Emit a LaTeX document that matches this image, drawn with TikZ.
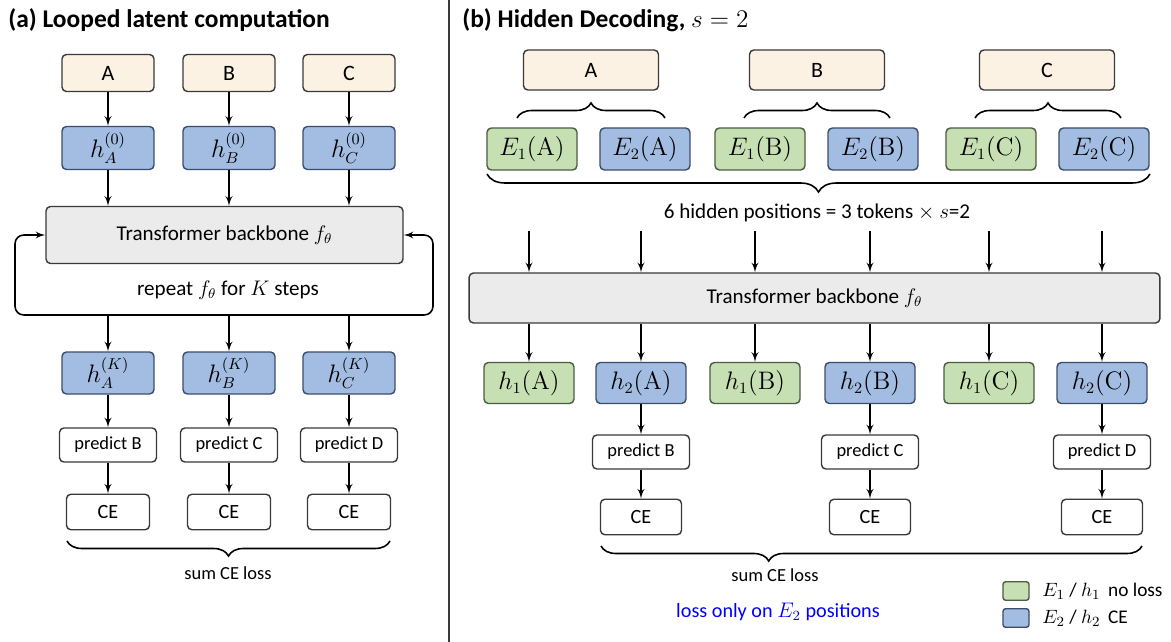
\documentclass[tikz,border=0pt]{standalone}
\usepackage{amsmath}
\usepackage{amssymb}
\usepackage[no-math]{fontspec}
\setmainfont{Carlito}
\usepackage{tikz}
\usetikzlibrary{arrows,decorations.pathreplacing}

\definecolor{creamfill}{HTML}{FBF2E3}
\definecolor{bluefill}{HTML}{A3BDE2}
\definecolor{greenfill}{HTML}{C6DFB3}
\definecolor{grayfill}{HTML}{EBEBEB}
\definecolor{boxline}{HTML}{3A3A3A}
\definecolor{blueline}{HTML}{3B4C6B}
\definecolor{greenline}{HTML}{4C5C42}

\tikzset{
	bx/.style={draw=boxline,line width=0.8pt,rounded corners=2.5pt,inner sep=0pt,align=center},
	tok/.style={bx,fill=creamfill,font=\fontsize{12.5}{14}\selectfont},
	hid/.style={bx,fill=bluefill,draw=blueline,font=\fontsize{13.5}{15}\selectfont},
	hidg/.style={bx,fill=greenfill,draw=greenline,font=\fontsize{13.5}{15}\selectfont},
	backbone/.style={bx,fill=grayfill,font=\fontsize{12}{14}\selectfont},
	pred/.style={bx,fill=white,minimum width=1.94cm,minimum height=0.68cm,font=\fontsize{10.5}{12}\selectfont},
	loss/.style={bx,fill=white,minimum height=0.71cm,font=\fontsize{11.5}{13}\selectfont},
	flow/.style={-latex',line width=0.9pt},
	brc/.style={decorate,line width=0.9pt,decoration={brace,amplitude=0.3cm}},
	lbl/.style={inner sep=0pt,font=\fontsize{12}{14}\selectfont}
}

\begin{document}
\begin{tikzpicture}[x=0.02cm,y=-0.02cm]
	\useasboundingbox[fill=white] (0,0) rectangle (1171,642);

	% (a)
	\node[anchor=west,inner sep=0pt,font=\fontsize{14.5}{16}\selectfont\bfseries] (titA) at (8,20) {(a) Looped latent computation};
	\draw[boxline,line width=0.9pt] (449,0) -- (449,642);

	\node[tok,minimum width=1.84cm,minimum height=0.74cm] (tA) at (108,73) {A};
	\node[tok,minimum width=1.84cm,minimum height=0.74cm] (tB) at (229,73) {B};
	\node[tok,minimum width=1.84cm,minimum height=0.74cm] (tC) at (349,73) {C};

	\node[hid,minimum width=1.84cm,minimum height=0.86cm] (h0A) at (108,148) {$h_A^{(0)}$};
	\node[hid,minimum width=1.84cm,minimum height=0.86cm] (h0B) at (229,148) {$h_B^{(0)}$};
	\node[hid,minimum width=1.84cm,minimum height=0.86cm] (h0C) at (349,148) {$h_C^{(0)}$};

	\node[backbone,minimum width=7.14cm,minimum height=1.14cm] (tfA) at (224.5,235) {Transformer backbone $f_\theta$};
	\node[lbl] (rep) at (228,290) {repeat $f_\theta$ for $K$ steps};

	\node[hid,minimum width=1.84cm,minimum height=0.84cm] (hKA) at (108,373) {$h_A^{(K)}$};
	\node[hid,minimum width=1.84cm,minimum height=0.84cm] (hKB) at (229,373) {$h_B^{(K)}$};
	\node[hid,minimum width=1.84cm,minimum height=0.84cm] (hKC) at (349,373) {$h_C^{(K)}$};

	\node[pred] (pA) at (108,445) {predict B};
	\node[pred] (pB) at (229,445) {predict C};
	\node[pred] (pC) at (349,445) {predict D};

	\node[loss,minimum width=1.66cm] (cA) at (108,512) {CE};
	\node[loss,minimum width=1.66cm] (cB) at (229,512) {CE};
	\node[loss,minimum width=1.66cm] (cC) at (349,512) {CE};

	\coordinate (loopB) at (229,315);
	\coordinate (loopL) at (15,235);
	\coordinate (loopR) at (433,235);

	\draw[flow] (tA) -- (h0A);
	\draw[flow] (tB) -- (h0B);
	\draw[flow] (tC) -- (h0C);
	\draw[flow] (h0A) -- (h0A |- tfA.north);
	\draw[flow] (h0B) -- (h0B |- tfA.north);
	\draw[flow] (h0C) -- (h0C |- tfA.north);
	\draw[flow,rounded corners=5pt] (loopB) -| (loopL) -- (tfA.west);
	\draw[flow,rounded corners=5pt] (loopB) -| (loopR) -- (tfA.east);
	\draw[flow] (hKA |- loopB) -- (hKA);
	\draw[flow] (hKB |- loopB) -- (hKB);
	\draw[flow] (hKC |- loopB) -- (hKC);
	\draw[flow] (hKA) -- (pA);
	\draw[flow] (hKB) -- (pB);
	\draw[flow] (hKC) -- (pC);
	\draw[flow] (pA) -- (cA);
	\draw[flow] (pB) -- (cB);
	\draw[flow] (pC) -- (cC);

	\draw[brc] (390,541) -- (67,541);
	\node[lbl,font=\fontsize{10.5}{12}\selectfont] (sumA) at (228,573) {sum CE loss};

	% (b)
	\node[anchor=west,inner sep=0pt,font=\fontsize{14.5}{16}\selectfont\bfseries] (titB) at (462,20) {(b) Hidden Decoding, $s=2$};

	\node[tok,minimum width=2.7cm,minimum height=0.8cm] (bA) at (591,70) {A};
	\node[tok,minimum width=2.7cm,minimum height=0.8cm] (bB) at (817,70) {B};
	\node[tok,minimum width=2.7cm,minimum height=0.8cm] (bC) at (1047,70) {C};

	\draw[brc] (517,118) -- (665,118);
	\draw[brc] (744,118) -- (890,118);
	\draw[brc] (975,118) -- (1121,118);

	\node[hidg,minimum width=1.8cm,minimum height=0.84cm] (eA1) at (532,149) {$E_1(\mathrm{A})$};
	\node[hid,minimum width=1.8cm,minimum height=0.84cm] (eA2) at (645,149) {$E_2(\mathrm{A})$};
	\node[hidg,minimum width=1.8cm,minimum height=0.84cm] (eB1) at (760,149) {$E_1(\mathrm{B})$};
	\node[hid,minimum width=1.8cm,minimum height=0.84cm] (eB2) at (873,149) {$E_2(\mathrm{B})$};
	\node[hidg,minimum width=1.8cm,minimum height=0.84cm] (eC1) at (991,149) {$E_1(\mathrm{C})$};
	\node[hid,minimum width=1.8cm,minimum height=0.84cm] (eC2) at (1104,149) {$E_2(\mathrm{C})$};

	\draw[brc,decoration={amplitude=0.36cm}] (1150,174) -- (487,174);
	\node[lbl] (hidpos) at (817,213) {6 hidden positions = 3 tokens $\times$ $s$=2};

	\node[backbone,minimum width=13.82cm,minimum height=1.0cm] (tfB) at (814.5,298) {Transformer backbone $f_\theta$};

	\node[hidg,minimum width=1.8cm,minimum height=0.82cm] (hA1) at (529,383) {$h_1(\mathrm{A})$};
	\node[hid,minimum width=1.8cm,minimum height=0.82cm] (hA2) at (641,383) {$h_2(\mathrm{A})$};
	\node[hidg,minimum width=1.8cm,minimum height=0.82cm] (hB1) at (755,383) {$h_1(\mathrm{B})$};
	\node[hid,minimum width=1.8cm,minimum height=0.82cm] (hB2) at (870,383) {$h_2(\mathrm{B})$};
	\node[hidg,minimum width=1.8cm,minimum height=0.82cm] (hC1) at (989,383) {$h_1(\mathrm{C})$};
	\node[hid,minimum width=1.8cm,minimum height=0.82cm] (hC2) at (1102,383) {$h_2(\mathrm{C})$};

	\node[pred] (qA) at (641,452) {predict B};
	\node[pred] (qB) at (870,452) {predict C};
	\node[pred] (qC) at (1102,452) {predict D};

	\node[loss,minimum width=1.62cm] (dA) at (641,517) {CE};
	\node[loss,minimum width=1.62cm] (dB) at (870,517) {CE};
	\node[loss,minimum width=1.62cm] (dC) at (1102,517) {CE};

	\draw[flow] ([yshift=-5pt]hA1 |- hidpos.south) -- (hA1 |- tfB.north);
	\draw[flow] ([yshift=-5pt]hA2 |- hidpos.south) -- (hA2 |- tfB.north);
	\draw[flow] ([yshift=-5pt]hB1 |- hidpos.south) -- (hB1 |- tfB.north);
	\draw[flow] ([yshift=-5pt]hB2 |- hidpos.south) -- (hB2 |- tfB.north);
	\draw[flow] ([yshift=-5pt]hC1 |- hidpos.south) -- (hC1 |- tfB.north);
	\draw[flow] ([yshift=-5pt]hC2 |- hidpos.south) -- (hC2 |- tfB.north);
	\draw[flow] (hA1 |- tfB.south) -- (hA1);
	\draw[flow] (hA2 |- tfB.south) -- (hA2);
	\draw[flow] (hB1 |- tfB.south) -- (hB1);
	\draw[flow] (hB2 |- tfB.south) -- (hB2);
	\draw[flow] (hC1 |- tfB.south) -- (hC1);
	\draw[flow] (hC2 |- tfB.south) -- (hC2);
	\draw[flow] (hA2) -- (qA);
	\draw[flow] (hB2) -- (qB);
	\draw[flow] (hC2) -- (qC);
	\draw[flow] (qA) -- (dA);
	\draw[flow] (qB) -- (dB);
	\draw[flow] (qC) -- (dC);

	\draw[brc,decoration={mirror,aspect=0.31}] (601,546) -- (1142,546);
	\node[lbl,font=\fontsize{10.5}{12}\selectfont] (sumB) at (775,575) {sum CE loss};
	\node[lbl,text=blue,font=\fontsize{11.5}{13}\selectfont] (only) at (778,612) {loss only on $E_2$ positions};

	% legend
	\node[hidg,minimum width=0.52cm,minimum height=0.37cm,rounded corners=1.5pt] (lgG) at (1016,591) {};
	\node[hid,minimum width=0.52cm,minimum height=0.37cm,rounded corners=1.5pt] (lgB) at (1016,618) {};
	\node[lbl,anchor=west,font=\fontsize{11}{13}\selectfont] (lgGt) at (1042,591) {$E_1$ / $h_1$\, no loss};
	\node[lbl,anchor=west,font=\fontsize{11}{13}\selectfont] (lgBt) at (1042,618) {$E_2$ / $h_2$\, CE};
\end{tikzpicture}
\end{document}
